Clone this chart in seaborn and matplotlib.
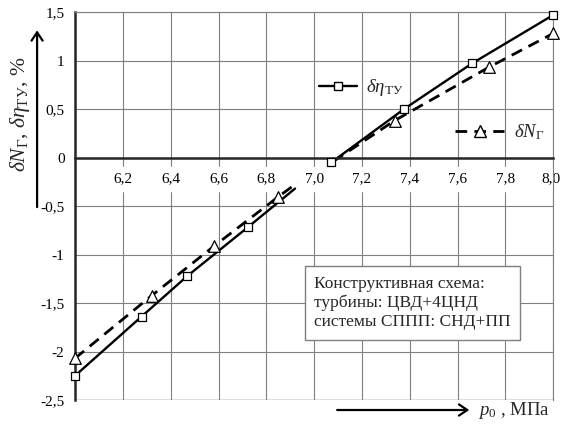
import numpy as np
import pandas as pd
import matplotlib
matplotlib.use('Agg')
import matplotlib.pyplot as plt
import matplotlib.transforms as mtransforms
import seaborn as sns
from matplotlib.lines import Line2D
from matplotlib.ticker import FixedLocator, FuncFormatter

# measured points (marked)
eta_x = [6.0, 6.278, 6.468, 6.722, 7.072, 7.376, 7.66, 8.0]
eta_y = [-2.25, -1.64, -1.225, -0.72, -0.05, 0.50, 0.97, 1.47]
ng_x = [6.0, 6.32, 6.583, 6.847, 7.336, 7.73, 8.0]
ng_y = [-2.07, -1.425, -0.91, -0.41, 0.38, 0.93, 1.28]

# unmarked line ends around the break near p0 = 7.0
eta_low_end = (6.92, -0.32)
ng_low_end = (6.93, -0.26)
ng_up_start = (7.08, -0.04)

x_ticks = [6.0, 6.2, 6.4, 6.6, 6.8, 7.0, 7.2, 7.4, 7.6, 7.8, 8.0]
y_ticks = [-2.5, -2.0, -1.5, -1.0, -0.5, 0.0, 0.5, 1.0, 1.5]

box_text = "Конструктивная схема:\nтурбины: ЦВД+4ЦНД\nсистемы СППП: СНД+ПП"

sns.set_style("white")
plt.rcParams['font.family'] = ['Liberation Serif', 'DejaVu Serif']
plt.rcParams['mathtext.fontset'] = 'custom'
plt.rcParams['mathtext.rm'] = 'Liberation Serif'
plt.rcParams['mathtext.it'] = 'Liberation Serif:italic'

fig = plt.figure(figsize=(5.62, 4.24), dpi=100)
ax = fig.add_axes([0.1335, 0.0566, 0.851, 0.915])

grid_c = '#7f7f7f'
dash = (0, (4.2, 2.6))
line_kw = dict(color='black', linewidth=1.7, sort=False, ax=ax)

# solid curve: delta eta_TU
sns.lineplot(x=eta_x[:4] + [eta_low_end[0]], y=eta_y[:4] + [eta_low_end[1]], **line_kw)
sns.lineplot(x=eta_x[4:], y=eta_y[4:], **line_kw)
# dashed curve: delta N_G
sns.lineplot(x=ng_x[:4] + [ng_low_end[0]], y=ng_y[:4] + [ng_low_end[1]], **line_kw)
ax.lines[-1].set_linestyle(dash)
ax.lines[-1].set_linewidth(2.0)
sns.lineplot(x=[ng_up_start[0]] + ng_x[4:], y=[ng_up_start[1]] + ng_y[4:], **line_kw)
ax.lines[-1].set_linestyle(dash)
ax.lines[-1].set_linewidth(2.0)

sns.scatterplot(x=ng_x, y=ng_y, marker='^', s=70, facecolor='white',
                edgecolor='black', linewidth=0.9, ax=ax, zorder=5, clip_on=False)
sns.scatterplot(x=eta_x, y=eta_y, marker='s', s=34, facecolor='white',
                edgecolor='black', linewidth=0.9, ax=ax, zorder=6, clip_on=False)

ax.set_xlim(6.0, 8.0)
ax.set_ylim(-2.5, 1.5)
ax.xaxis.set_major_locator(FixedLocator(x_ticks))
ax.yaxis.set_major_locator(FixedLocator(y_ticks))
ax.xaxis.set_major_formatter(FuncFormatter(
    lambda v, p: '' if abs(v - 6.0) < 1e-6 else f'{v:.1f}'.replace('.', ',')))
ax.yaxis.set_major_formatter(FuncFormatter(lambda v, p: f'{v:g}'.replace('.', ',')))
ax.grid(True, color=grid_c, linewidth=0.8)
ax.set_axisbelow(True)

ax.spines['bottom'].set_position(('data', 0))
ax.spines['bottom'].set_linewidth(1.8)
ax.spines['left'].set_linewidth(1.8)
for s in ['top', 'right']:
    ax.spines[s].set_color(grid_c)
    ax.spines[s].set_linewidth(0.8)
ax.axhline(-2.5, color=grid_c, linewidth=1.0, zorder=0.5)

ax.tick_params(axis='both', direction='inout', length=7, width=1.2,
               labelsize=11, colors='black')
ax.tick_params(axis='x', pad=7)
ax.tick_params(axis='y', pad=4)
fig.canvas.draw()
for lab in ax.get_xticklabels():
    lab.set_backgroundcolor('white')
# keep the last x label inside the figure
ax.get_xticklabels()[-1].set_transform(
    ax.get_xticklabels()[-1].get_transform()
    + mtransforms.ScaledTranslation(-2 / 100, 0, fig.dpi_scale_trans))
ax.set_xlabel('')
ax.set_ylabel('')

# legends (two separate entries)
h_eta = Line2D([], [], color='black', linewidth=1.7, marker='s', markersize=6,
               markerfacecolor='white', markeredgecolor='black')
h_ng = Line2D([], [], color='black', linewidth=2.0, linestyle=dash,
              marker='^', markersize=8, markerfacecolor='white', markeredgecolor='black')
leg1 = ax.legend([h_eta], [r'$\delta\eta_{\mathrm{ТУ}}$'], loc='center left',
                 bbox_to_anchor=(0.475, 0.805), frameon=False, fontsize=13.5,
                 handlelength=2.0, handletextpad=0.5)
ax.add_artist(leg1)
ax.legend([h_ng], [r'$\delta N_{\mathrm{Г}}$'], loc='center left',
          bbox_to_anchor=(0.76, 0.69), frameon=False, fontsize=13.5,
          handlelength=2.6, handletextpad=0.5)

# text box
ax.text(0.5, 0.25, box_text, transform=ax.transAxes, fontsize=12.5, va='center',
        ha='left', linespacing=1.25,
        bbox=dict(boxstyle='square,pad=0.55', facecolor='white', edgecolor=grid_c, linewidth=1.0),
        zorder=10)

# axis labels with arrows
fig.text(0.036, 0.73, r'$\delta N_{\mathrm{Г}}$, $\delta\eta_{\mathrm{ТУ}}$, %', rotation=90,
         ha='center', va='center', fontsize=15.5)
fig.add_artist(matplotlib.patches.FancyArrowPatch(
    (0.066, 0.505), (0.066, 0.935), transform=fig.transFigure,
    arrowstyle='->,head_length=6,head_width=4', color='black', linewidth=1.6))
fig.add_artist(matplotlib.patches.FancyArrowPatch(
    (0.595, 0.033), (0.84, 0.033), transform=fig.transFigure,
    arrowstyle='->,head_length=6,head_width=4', color='black', linewidth=1.6))
fig.text(0.85, 0.033, r'$p_0$ , МПа', ha='left', va='center', fontsize=13.5)

fig.savefig('out.png', dpi=100)
